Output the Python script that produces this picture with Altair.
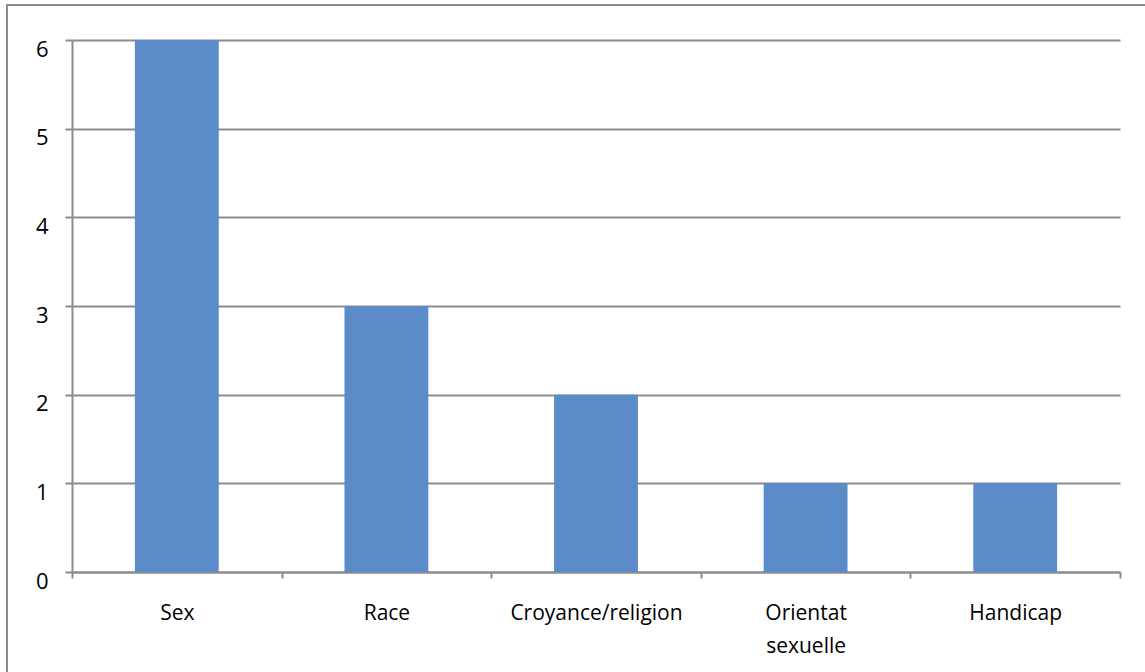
import altair as alt
import pandas as pd

categories = ["Sex", "Race", "Croyance/religion", "Orientat sexuelle", "Handicap"]
values = [6, 3, 2, 1, 1]

df = pd.DataFrame({"cat": categories, "val": values})

FONT = "Open Sans"
GRAY = "#8c8c8c"

NB = "\u00a0" * 10
label_expr = ("datum.label == 'Orientat sexuelle' ? ['Orientat', 'sexuelle" + NB + "'] : datum.label")

bars = alt.Chart(df).mark_bar(color="#5B8BC9", width=alt.RelativeBandSize(0.4)).encode(
    x=alt.X("cat:N", sort=categories,
            scale=alt.Scale(paddingInner=0, paddingOuter=0),
            axis=alt.Axis(title=None, labelAngle=0, labelExpr=label_expr,
                          tickBand="extent", tickSize=6, tickColor=GRAY, tickWidth=2,
                          domainColor=GRAY, domainWidth=2, labelPadding=24,
                          labelFontSize=21, labelFont=FONT, labelColor="#000000",
                          labelLineHeight=33, grid=False)),
    y=alt.Y("val:Q", scale=alt.Scale(domain=[0, 6]),
            axis=alt.Axis(title=None, values=[0, 1, 2, 3, 4, 5, 6], tickSize=7,
                          tickColor=GRAY, tickWidth=2, domainColor=GRAY, domainWidth=2,
                          gridColor=GRAY, gridWidth=2, labelPadding=17, labelOffset=9,
                          labelFontSize=22, labelFont=FONT, labelColor="#000000")),
)

frame = alt.Chart(alt.Data(values=[{}])).mark_rect(
    fill=None, stroke=GRAY, strokeWidth=2
).encode(
    x=alt.value(-65), x2=alt.value(1200), y=alt.value(-35), y2=alt.value(700)
)

chart = alt.layer(bars, frame).properties(
    width=1048, height=532,
    autosize=alt.AutoSizeParams(type="none"),
    padding={"left": 72, "top": 40, "right": 25, "bottom": 100},
    background="white",
).configure_view(stroke=None)

chart.save("out.html", embed_options={"renderer": "svg", "actions": False})
